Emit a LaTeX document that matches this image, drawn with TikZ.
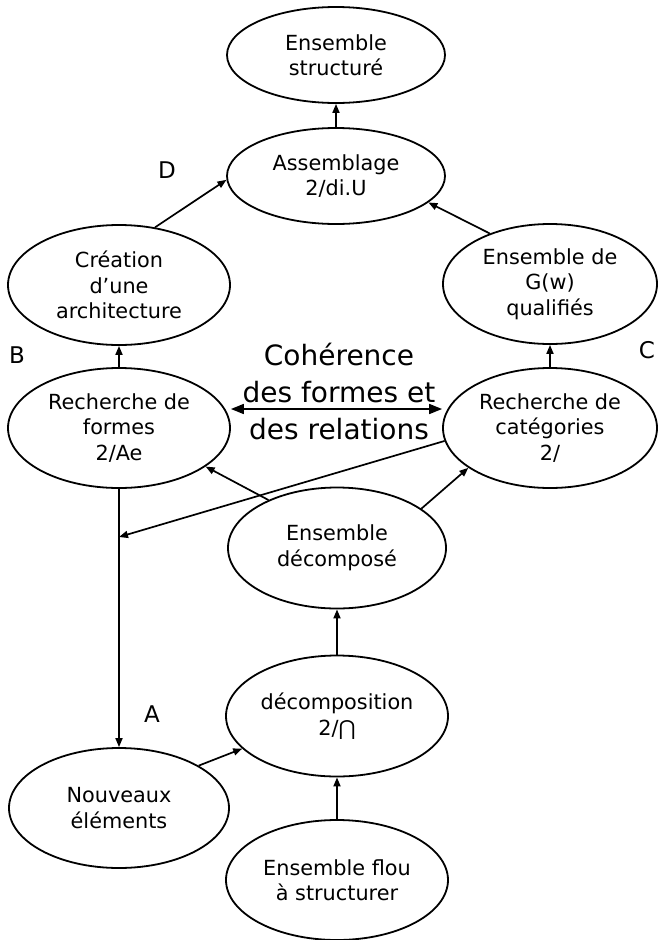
\documentclass[tikz,border=0pt]{standalone}
\usepackage{fontspec}
\setmainfont{DejaVu Sans}
\usetikzlibrary{shapes.geometric,arrows.meta,calc}

\begin{document}
\begin{tikzpicture}[x=1pt,y=-1pt,
  bubble/.style={ellipse, draw, line width=1.8pt, inner sep=0pt, align=center,
                 font=\fontsize{20.8}{25.5}\selectfont},
  link/.style={line width=1.7pt, -{Triangle[length=9pt,width=7pt]}},
  biarrow/.style={line width=1.7pt, {Triangle[length=13pt,width=10pt]}-{Triangle[length=13pt,width=10pt]}},
  tag/.style={font=\fontsize{23}{27}\selectfont},
  bigtext/.style={align=center, font=\fontsize{28}{37}\selectfont}]

\useasboundingbox (0,0) rectangle (660,940);

% process states
\node[bubble, minimum width=218pt, minimum height=96pt]  (struct)    at (336,55)  {Ensemble\\structuré};
\node[bubble, minimum width=218pt, minimum height=96pt]  (assemb)    at (336,176) {Assemblage\\2/di.U};
\node[bubble, minimum width=222pt, minimum height=120pt] (creation)  at (119,285) {Création\\d’une\\architecture};
\node[bubble, minimum width=214pt, minimum height=120pt] (gw)        at (550,284) {Ensemble de\\G(w)\\qualifiés};
\node[bubble, minimum width=222pt, minimum height=120pt] (formes)    at (119,428) {Recherche de\\formes\\2/Ae};
\node[bubble, minimum width=214pt, minimum height=120pt] (categ)     at (550,428) {Recherche de\\catégories\\2/};
\node[bubble, minimum width=218pt, minimum height=121pt] (decompose) at (337,548) {Ensemble\\décomposé};
\node[bubble, minimum width=222pt, minimum height=121pt] (decomp)    at (337,716) {décomposition\\2/⋂};
\node[bubble, minimum width=220pt, minimum height=120pt] (nouveaux)  at (119,808) {Nouveaux\\éléments};
\node[bubble, minimum width=222pt, minimum height=120pt] (flou)      at (337,880) {Ensemble flou\\à structurer};

% phase letters
\node[tag] (labA) at (152,714) {A};
\node[tag] (labB) at (17,355)  {B};
\node[tag] (labC) at (647,350) {C};
\node[tag] (labD) at (167,170) {D};

% central label and the two-way link
\node[bigtext] (coh) at (339,391) {Cohérence\\des formes et\\des relations};
\coordinate (axis) at (338,409);
\draw[biarrow] (formes.east |- axis) -- (categ.west |- axis);

% upward flow
\draw[link] (assemb.north) -- (struct.south);
\draw[link] (creation.58) -- (assemb.182);
\draw[link] (gw.140) -- (assemb.-16);
\draw[link] (formes.north) -- (creation.south);
\draw[link] (categ.north) -- (gw.south);
\draw[link] (decompose.145) -- (formes.-24);
\draw[link] (decompose.25) -- (categ.206);
\draw[link] (decomp.north) -- (decompose.south);
\draw[link] (flou.north) -- (decomp.south);
\draw[link] (nouveaux.28) -- (decomp.199);

% feedback towards new elements
\coordinate (joint) at (119,537);
\draw[link] (categ.187) -- (joint);
\draw[link] (formes.south) -- (nouveaux.north);

\end{tikzpicture}
\end{document}
